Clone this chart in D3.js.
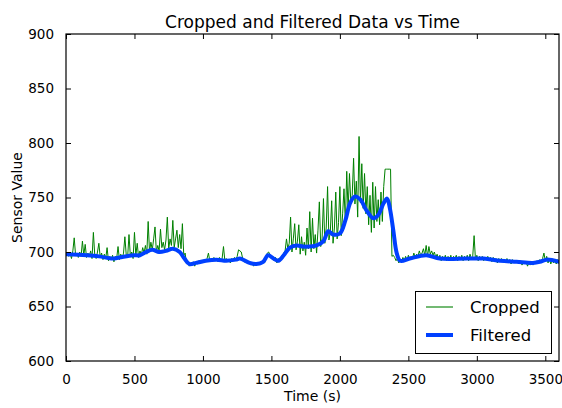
<!DOCTYPE html>
<html><head><meta charset="utf-8">
<script src="https://cdn.jsdelivr.net/npm/d3@7"></script>
<style>body{margin:0;background:#fff}svg{display:block}text{font-family:"DejaVu Sans",sans-serif;fill:#000}</style>
</head><body><svg id="c" width="562" height="408"></svg>
<script>
// ---- data ----
const titleText = "Cropped and Filtered Data vs Time";
const xLabel = "Time (s)";
const yLabel = "Sensor Value";
const xTicks = [0, 500, 1000, 1500, 2000, 2500, 3000, 3500];
const yTicks = [600, 650, 700, 750, 800, 850, 900];
const seriesNames = ["Cropped", "Filtered"];

// cropped (raw) samples, one every 10 s from t = 0 s (one row = 100 s)
const sampleStep = 10;
const croppedValues = [
  697,700,696,699,694,701,713,697,699,695,
  700,696,710,697,707,695,699,696,701,694,
  718,697,694,700,708,695,699,693,698,694,
  704,692,696,693,697,691,696,694,705,693,
  698,694,699,714,697,695,716,696,700,694,
  718,697,708,695,701,697,704,699,706,698,
  728,700,709,702,712,723,700,706,701,721,
  704,709,702,711,732,703,712,706,729,704,
  712,720,704,716,703,726,697,699,689,691,
  687,690,688,691,687,690,689,692,689,691,
  690,693,691,694,699,692,694,691,695,692,
  694,691,695,692,694,705,692,694,691,693,
  690,694,692,695,693,696,702,701,700,694,
  692,690,692,689,691,688,690,687,690,688,
  690,688,691,689,692,690,695,699,700,697,
  694,696,692,695,690,694,691,693,697,699,
  701,712,703,708,732,700,712,726,702,710,
  725,698,714,701,709,697,722,703,737,700,
  731,703,716,699,720,746,705,712,749,708,
  722,760,711,718,747,708,722,755,712,727,
  760,715,735,758,726,774,738,772,745,752,
  786,744,765,732,806,745,781,740,772,735,
  760,725,752,718,764,722,760,728,748,725,
  755,728,760,776,776,776,776,776,696,697,
  695,692,694,690,693,691,695,692,696,692,
  697,693,696,694,699,695,698,696,701,697,
  699,703,697,706,696,705,698,701,697,700,
  695,698,693,697,692,696,693,697,692,696,
  693,697,692,696,694,697,692,696,693,697,
  692,696,693,697,692,698,694,696,715,693,
  697,692,696,693,696,692,695,693,696,692,
  695,691,695,692,694,690,694,691,694,692,
  693,690,694,691,693,689,693,690,692,690,
  692,689,692,688,691,689,691,687,690,688,
  690,688,691,689,692,690,693,691,694,699,
  692,696,690,694,689,693,690,692,689,693,
  690
];

// filtered (smoothed) series
const filteredTimes = [0,150,240,340,390,490,540,585,630,680,730,780,830,865,900,950,1020,1100,1170,1240,1270,1340,1390,1440,1475,1515,1550,1590,1635,1685,1730,1780,1830,1880,1915,1950,2000,2040,2075,2110,2150,2195,2245,2280,2320,2345,2365,2390,2415,2440,2510,2630,2730,2930,3050,3170,3290,3410,3460,3510,3600];
const filteredValues = [698,697,696,694,695,697,697,700,702,700,701,703,700,694,689,690,692,693,692,693,694,690,689,691,697,694,692,697,704,706,705,705,706,710,719,716,717,729,745,751,748,738,731,734,745,749,740,720,699,692,694,697,694,694,694,692,691,690,691,693,691];

// ---- chart ----
const W = 562, H = 408;
const m = {left: 66, right: 3, top: 34, bottom: 47};
const svg = d3.select("#c");
svg.append("rect").attr("width", W).attr("height", H).attr("fill", "#fff");

const x = d3.scaleLinear().domain([0, 3600]).range([m.left, W - m.right]);
const y = d3.scaleLinear().domain([600, 900]).range([H - m.bottom, m.top]);

const cropped = croppedValues.map((v, i) => ({t: i * sampleStep, v}));
const filtered = filteredTimes.map((t, i) => ({t, v: filteredValues[i]}));

const plot = svg.append("g");
plot.append("defs").append("clipPath").attr("id", "clip")
  .append("rect").attr("x", m.left).attr("y", m.top)
  .attr("width", W - m.left - m.right).attr("height", H - m.top - m.bottom);

plot.append("path").datum(cropped)
  .attr("clip-path", "url(#clip)")
  .attr("fill", "none").attr("stroke", "#008000").attr("stroke-width", 1)
  .attr("stroke-linejoin", "miter")
  .attr("d", d3.line().x(d => x(d.t)).y(d => y(d.v)));

plot.append("path").datum(filtered)
  .attr("clip-path", "url(#clip)")
  .attr("fill", "none").attr("stroke", "#0040ff").attr("stroke-width", 4)
  .attr("stroke-linejoin", "round").attr("stroke-linecap", "round")
  .attr("d", d3.line().curve(d3.curveCatmullRom.alpha(0.5)).x(d => x(d.t)).y(d => y(d.v)));

// axes (matplotlib classic: inward ticks on all four sides)
const tl = 5;
const fs = 13.5;
const bottomAx = svg.append("g").attr("transform", `translate(0,${H - m.bottom})`)
  .call(d3.axisBottom(x).tickValues(xTicks).tickSize(-tl).tickPadding(8 + tl).tickFormat(d3.format("d")));
const topAx = svg.append("g").attr("transform", `translate(0,${m.top})`)
  .call(d3.axisTop(x).tickValues(xTicks).tickSize(-tl).tickFormat(""));
const leftAx = svg.append("g").attr("transform", `translate(${m.left},0)`)
  .call(d3.axisLeft(y).tickValues(yTicks).tickSize(-tl).tickPadding(7 + tl).tickFormat(d3.format("d")));
const rightAx = svg.append("g").attr("transform", `translate(${W - m.right},0)`)
  .call(d3.axisRight(y).tickValues(yTicks).tickSize(-tl).tickFormat(""));
[bottomAx, topAx, leftAx, rightAx].forEach(g => {
  g.select(".domain").remove();
  g.selectAll(".tick line").attr("stroke", "#000").attr("stroke-width", 1);
  g.selectAll(".tick text").style("font-family", "DejaVu Sans").style("font-size", fs + "px").attr("fill", "#000");
});

svg.append("rect").attr("x", m.left).attr("y", m.top)
  .attr("width", W - m.left - m.right).attr("height", H - m.top - m.bottom)
  .attr("fill", "none").attr("stroke", "#000").attr("stroke-width", 1.2);

// labels
svg.append("text").attr("x", (m.left + W - m.right) / 2).attr("y", 28)
  .attr("text-anchor", "middle").style("font-size", "17px").text(titleText);
svg.append("text").attr("x", (m.left + W - m.right) / 2).attr("y", 401)
  .attr("text-anchor", "middle").style("font-size", "14px").text(xLabel);
svg.append("text").attr("transform", `translate(22,${(m.top + H - m.bottom) / 2}) rotate(-90)`)
  .attr("text-anchor", "middle").style("font-size", "14px").text(yLabel);

// legend
const lg = svg.append("g");
lg.append("rect").attr("x", 415.5).attr("y", 291.5).attr("width", 136).attr("height", 62)
  .attr("fill", "#fff").attr("stroke", "#000").attr("stroke-width", 1);
const legendItems = [
  {name: seriesNames[0], color: "#008000", w: 1.1, yy: 307},
  {name: seriesNames[1], color: "#0040ff", w: 4, yy: 335}
];
legendItems.forEach(it => {
  lg.append("line").attr("x1", 426).attr("x2", 453).attr("y1", it.yy).attr("y2", it.yy)
    .attr("stroke", it.color).attr("stroke-width", it.w);
  lg.append("text").attr("x", 470).attr("y", it.yy + 6).style("font-size", "16.5px").text(it.name);
});
</script>
</body></html>
